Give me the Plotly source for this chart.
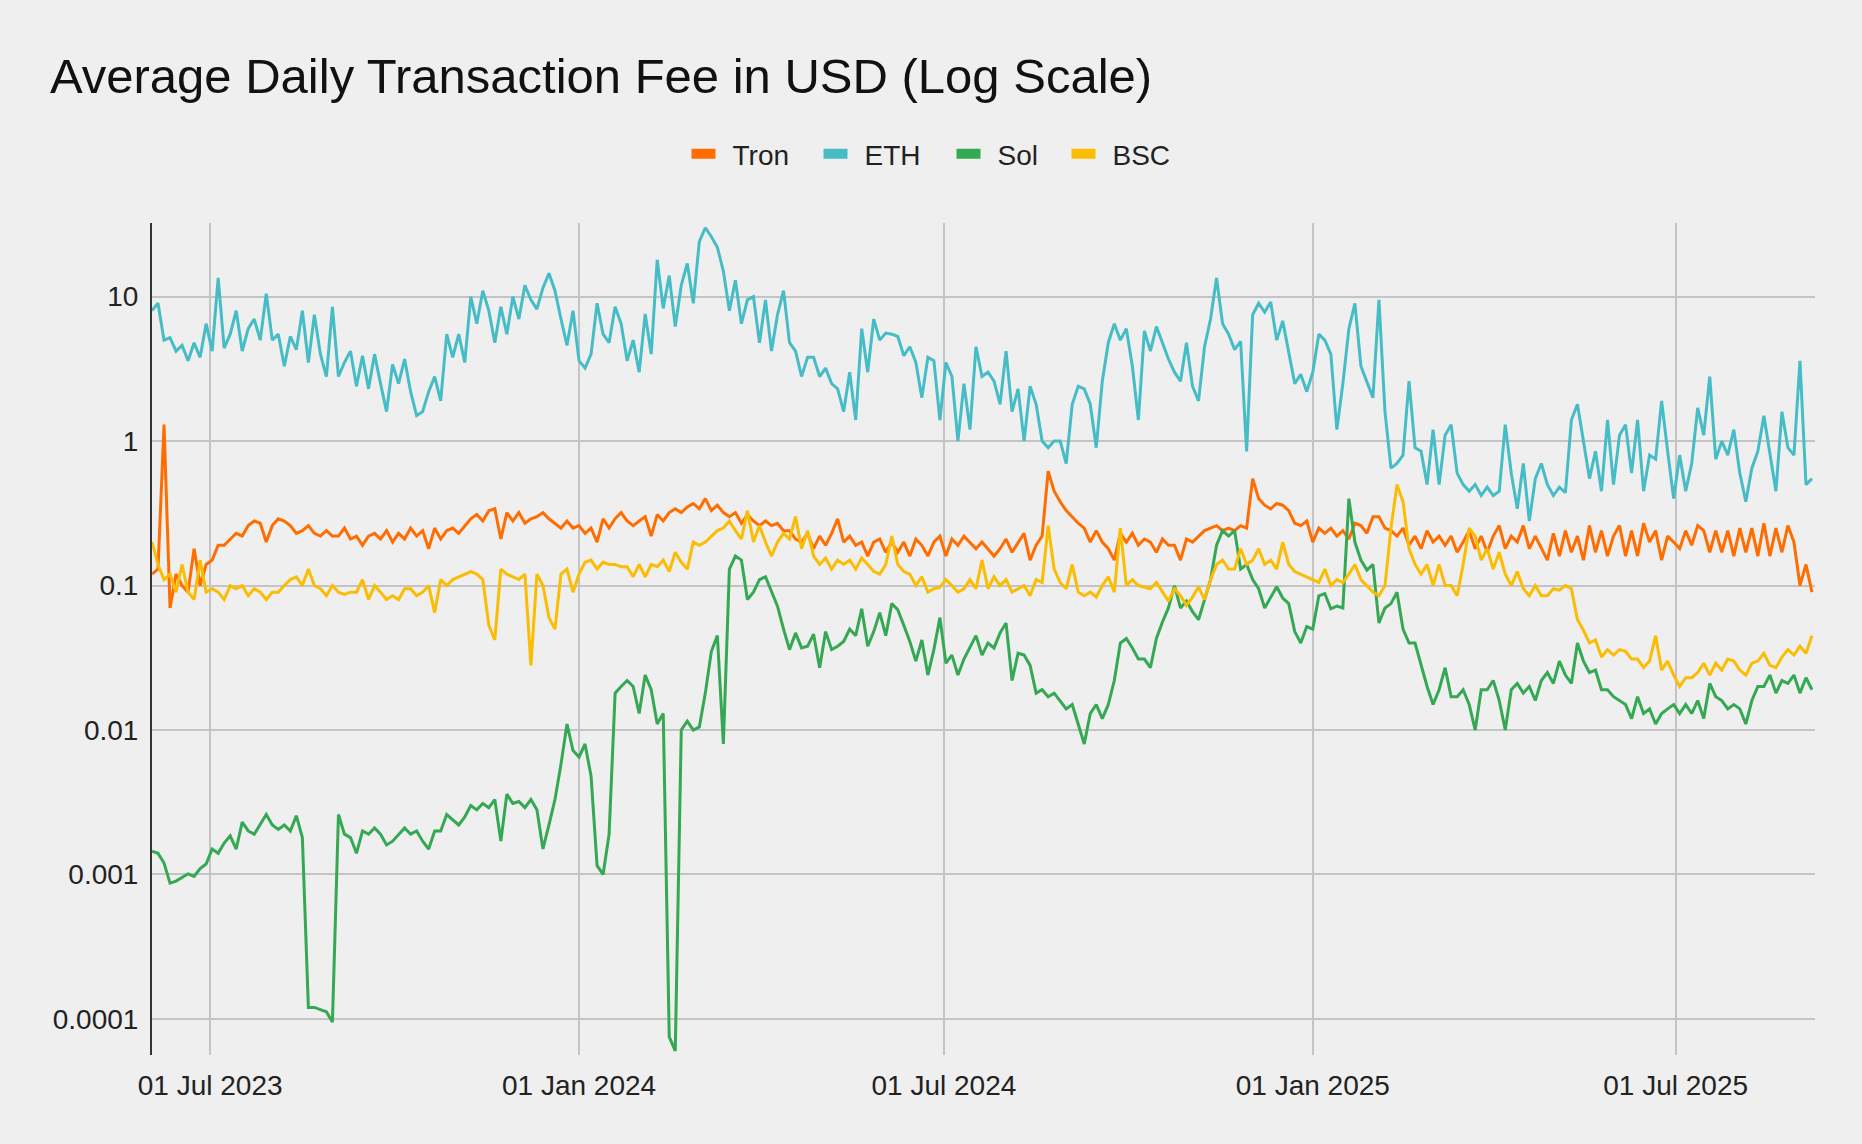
import pandas as pd
import plotly.graph_objects as go

# ---- data (one value every 3 days, starting 2023-06-02) ----
start_date = "2023-06-02"
step = "3D"

series_names = ["Tron", "ETH", "Sol", "BSC"]
series_colors = ["#FF6D01", "#46BDC6", "#34A853", "#FBBC04"]

tron = [
    0.12, 0.13, 1.3, 0.07, 0.12, 0.10, 0.09, 0.18, 0.10, 0.14,
    0.15, 0.19, 0.19, 0.21, 0.23, 0.22, 0.26, 0.28, 0.27, 0.20,
    0.26, 0.29, 0.28, 0.26, 0.23, 0.24, 0.26, 0.23, 0.22, 0.24,
    0.22, 0.22, 0.25, 0.21, 0.22, 0.19, 0.22, 0.23, 0.21, 0.24,
    0.20, 0.23, 0.21, 0.25, 0.22, 0.24, 0.18, 0.25, 0.21, 0.24,
    0.25, 0.23, 0.26, 0.29, 0.31, 0.28, 0.33, 0.34, 0.21, 0.32,
    0.28, 0.32, 0.27, 0.29, 0.30, 0.32, 0.29, 0.27, 0.25, 0.28,
    0.25, 0.26, 0.23, 0.25, 0.20, 0.29, 0.25, 0.29, 0.32, 0.28,
    0.26, 0.28, 0.30, 0.22, 0.31, 0.28, 0.32, 0.34, 0.32, 0.35,
    0.37, 0.34, 0.40, 0.33, 0.36, 0.32, 0.30, 0.32, 0.27, 0.31,
    0.28, 0.26, 0.28, 0.26, 0.27, 0.24, 0.24, 0.21, 0.20, 0.23,
    0.18, 0.22, 0.19, 0.23, 0.29, 0.20, 0.22, 0.19, 0.20, 0.16,
    0.20, 0.21, 0.17, 0.20, 0.17, 0.20, 0.16, 0.21, 0.19, 0.16,
    0.20, 0.22, 0.16, 0.21, 0.19, 0.22, 0.20, 0.18, 0.20, 0.18,
    0.16, 0.18, 0.21, 0.17, 0.20, 0.23, 0.15, 0.19, 0.22, 0.62,
    0.45, 0.38, 0.33, 0.30, 0.27, 0.25, 0.20, 0.24, 0.20, 0.18,
    0.15, 0.23, 0.20, 0.23, 0.19, 0.21, 0.20, 0.17, 0.21, 0.19,
    0.19, 0.15, 0.21, 0.20, 0.22, 0.24, 0.25, 0.26, 0.24, 0.25,
    0.24, 0.26, 0.25, 0.55, 0.40, 0.36, 0.34, 0.37, 0.36, 0.33,
    0.27, 0.26, 0.28, 0.20, 0.25, 0.23, 0.25, 0.22, 0.24, 0.21,
    0.27, 0.26, 0.23, 0.30, 0.30, 0.25, 0.24, 0.22, 0.25, 0.19,
    0.22, 0.18, 0.24, 0.20, 0.22, 0.19, 0.22, 0.17, 0.20, 0.24,
    0.18, 0.22, 0.17, 0.22, 0.26, 0.18, 0.22, 0.20, 0.26, 0.18,
    0.22, 0.18, 0.15, 0.23, 0.16, 0.24, 0.17, 0.22, 0.15, 0.26,
    0.17, 0.24, 0.16, 0.22, 0.26, 0.16, 0.24, 0.16, 0.27, 0.20,
    0.24, 0.15, 0.22, 0.20, 0.18, 0.24, 0.19, 0.26, 0.24, 0.17,
    0.24, 0.17, 0.24, 0.16, 0.25, 0.17, 0.25, 0.16, 0.27, 0.16,
    0.25, 0.17, 0.26, 0.20, 0.10, 0.14, 0.09,
]

eth = [
    8.0, 9.0, 5.0, 5.2, 4.2, 4.6, 3.6, 4.8, 3.8, 6.5,
    4.2, 13.5, 4.4, 5.5, 8.0, 4.2, 6.0, 7.0, 5.0, 10.5,
    5.0, 5.5, 3.3, 5.3, 4.3, 8.0, 3.5, 7.5, 4.0, 2.8,
    8.5, 2.8, 3.5, 4.2, 2.4, 3.9, 2.3, 4.0, 2.5, 1.6,
    3.4, 2.5, 3.7, 2.2, 1.5, 1.6, 2.2, 2.8, 1.9, 5.5,
    3.8, 5.5, 3.5, 10, 6.5, 11, 8.0, 4.8, 8.5, 5.5,
    10, 7, 12, 9.5, 8.2, 11.5, 14.5, 11, 7.0, 4.6,
    8.0, 3.6, 3.2, 4.0, 9.0, 5.5, 4.8, 8.5, 6.5, 3.6,
    5.0, 3.0, 7.6, 4.0, 18, 8.3, 14, 6.2, 12, 17,
    9, 24, 30, 26, 22, 15, 8, 13, 6.5, 9.5,
    10, 4.8, 9.5, 4.2, 7.5, 11, 4.8, 4.2, 2.8, 3.8,
    3.8, 2.8, 3.2, 2.5, 2.3, 1.6, 3.0, 1.4, 6.0, 3.0,
    7.0, 5.0, 5.6, 5.5, 5.3, 3.9, 4.5, 3.5, 2.0, 3.8,
    3.6, 1.4, 3.5, 2.8, 1.0, 2.5, 1.2, 4.5, 2.8, 3.0,
    2.6, 1.8, 4.2, 1.6, 2.3, 1.0, 2.4, 1.8, 1.0, 0.9,
    1.0, 1.0, 0.7, 1.8, 2.4, 2.3, 1.8, 0.9, 2.6, 4.8,
    6.5, 5.0, 6.0, 3.3, 1.4, 5.8, 4.2, 6.2, 4.8, 3.7,
    3.0, 2.6, 4.8, 2.4, 1.9, 4.5, 7.0, 13.5, 6.5, 5.5,
    4.3, 4.9, 0.85, 7.5, 9.0, 7.8, 9.2, 5.0, 6.8, 4.0,
    2.5, 2.9, 2.2, 3.0, 5.5, 5.0, 4.0, 1.2, 2.5, 6.0,
    9.0, 3.3, 2.6, 2.0, 9.5, 1.6, 0.65, 0.7, 0.8, 2.6,
    0.9, 0.85, 0.5, 1.2, 0.5, 1.1, 1.3, 0.6, 0.5, 0.45,
    0.5, 0.42, 0.48, 0.42, 0.45, 1.3, 0.6, 0.34, 0.7, 0.28,
    0.55, 0.7, 0.5, 0.42, 0.48, 0.44, 1.4, 1.8, 1.0, 0.55,
    0.85, 0.45, 1.4, 0.5, 1.1, 1.3, 0.6, 1.4, 0.45, 0.8,
    0.75, 1.9, 0.85, 0.4, 0.8, 0.45, 0.7, 1.7, 1.1, 2.8,
    0.75, 1.0, 0.8, 1.2, 0.6, 0.38, 0.65, 0.85, 1.5, 0.8,
    0.45, 1.6, 0.9, 0.8, 3.6, 0.5, 0.55,
]

sol = [
    0.00145, 0.00140, 0.00120, 0.00087, 0.00090, 0.00095, 0.00101, 0.00097, 0.00110, 0.00118,
    0.00150, 0.00140, 0.00165, 0.00185, 0.00150, 0.00230, 0.00200, 0.00190, 0.00220, 0.00260,
    0.00220, 0.00205, 0.00220, 0.00200, 0.00255, 0.00180, 0.000120, 0.000120, 0.000116, 0.000112,
    0.000095, 0.0026, 0.0019, 0.0018, 0.0014, 0.0020, 0.0019, 0.0021, 0.0019, 0.0016,
    0.0017, 0.0019, 0.0021, 0.0019, 0.0020, 0.0017, 0.0015, 0.0020, 0.0020, 0.0026,
    0.0024, 0.0022, 0.0025, 0.0030, 0.0028, 0.0031, 0.0029, 0.0033, 0.0017, 0.0036,
    0.0031, 0.0032, 0.0029, 0.0033, 0.0028, 0.0015, 0.0022, 0.0033, 0.0058, 0.0110,
    0.0072, 0.0065, 0.0080, 0.0048, 0.00115, 0.0010, 0.0019, 0.018, 0.020, 0.022,
    0.020, 0.013, 0.024, 0.019, 0.011, 0.013, 0.000075, 0.00006, 0.010, 0.0115,
    0.010, 0.0105, 0.018, 0.035, 0.045, 0.008, 0.13, 0.16, 0.15, 0.08,
    0.09, 0.11, 0.115, 0.09, 0.072, 0.05, 0.036, 0.047, 0.037, 0.038,
    0.046, 0.027, 0.048, 0.036, 0.038, 0.041, 0.050, 0.045, 0.069, 0.038,
    0.048, 0.065, 0.045, 0.075, 0.068, 0.053, 0.041, 0.030, 0.042, 0.024,
    0.036, 0.060, 0.029, 0.033, 0.024, 0.031, 0.037, 0.045, 0.033, 0.040,
    0.037, 0.047, 0.055, 0.022, 0.034, 0.033, 0.028, 0.018, 0.019, 0.017,
    0.018, 0.016, 0.014, 0.015, 0.011, 0.008, 0.013, 0.015, 0.012, 0.015,
    0.022, 0.040, 0.043, 0.037, 0.031, 0.031, 0.027, 0.043, 0.056, 0.070,
    0.10, 0.07, 0.078, 0.066, 0.058, 0.08, 0.11, 0.19, 0.24, 0.22,
    0.24, 0.13, 0.14, 0.11, 0.095, 0.07, 0.082, 0.098, 0.082, 0.075,
    0.048, 0.040, 0.052, 0.05, 0.085, 0.088, 0.069, 0.072, 0.07, 0.40,
    0.20, 0.15, 0.128, 0.14, 0.055, 0.07, 0.075, 0.09, 0.05, 0.040,
    0.040, 0.028, 0.020, 0.015, 0.019, 0.027, 0.017, 0.017, 0.019, 0.015,
    0.010, 0.019, 0.019, 0.022, 0.016, 0.010, 0.019, 0.021, 0.018, 0.020,
    0.016, 0.022, 0.025, 0.021, 0.030, 0.024, 0.021, 0.040, 0.030, 0.025,
    0.026, 0.019, 0.019, 0.017, 0.016, 0.015, 0.012, 0.017, 0.013, 0.014,
    0.011, 0.013, 0.014, 0.015, 0.013, 0.015, 0.013, 0.016, 0.012, 0.021,
    0.017, 0.016, 0.014, 0.015, 0.014, 0.011, 0.016, 0.020, 0.020, 0.024,
    0.018, 0.022, 0.021, 0.024, 0.018, 0.023, 0.019,
]

bsc = [
    0.20, 0.14, 0.11, 0.12, 0.09, 0.14, 0.09, 0.08, 0.15, 0.09,
    0.095, 0.09, 0.08, 0.10, 0.095, 0.10, 0.085, 0.095, 0.09, 0.08,
    0.09, 0.09, 0.10, 0.11, 0.115, 0.10, 0.13, 0.10, 0.095, 0.085,
    0.10, 0.09, 0.087, 0.09, 0.09, 0.11, 0.08, 0.10, 0.09, 0.08,
    0.085, 0.08, 0.095, 0.095, 0.085, 0.09, 0.10, 0.065, 0.11, 0.10,
    0.11, 0.115, 0.12, 0.125, 0.12, 0.11, 0.053, 0.042, 0.13, 0.12,
    0.115, 0.11, 0.12, 0.028, 0.12, 0.10, 0.06, 0.05, 0.12, 0.13,
    0.09, 0.12, 0.145, 0.15, 0.13, 0.145, 0.14, 0.14, 0.135, 0.135,
    0.115, 0.14, 0.115, 0.14, 0.135, 0.15, 0.125, 0.17, 0.145, 0.13,
    0.20, 0.19, 0.20, 0.22, 0.24, 0.25, 0.28, 0.24, 0.21, 0.33,
    0.20, 0.26, 0.20, 0.16, 0.20, 0.23, 0.21, 0.30, 0.18, 0.24,
    0.16, 0.14, 0.155, 0.13, 0.15, 0.14, 0.15, 0.13, 0.155, 0.14,
    0.125, 0.12, 0.14, 0.22, 0.14, 0.125, 0.12, 0.10, 0.115, 0.09,
    0.095, 0.097, 0.11, 0.10, 0.09, 0.095, 0.11, 0.095, 0.15, 0.095,
    0.115, 0.10, 0.11, 0.09, 0.095, 0.10, 0.085, 0.11, 0.105, 0.26,
    0.13, 0.105, 0.095, 0.14, 0.09, 0.085, 0.09, 0.083, 0.10, 0.115,
    0.09, 0.25, 0.10, 0.11, 0.10, 0.097, 0.095, 0.105, 0.09, 0.078,
    0.095, 0.085, 0.073, 0.083, 0.098, 0.08, 0.11, 0.14, 0.15, 0.13,
    0.13, 0.18, 0.14, 0.15, 0.18, 0.14, 0.15, 0.13, 0.20, 0.14,
    0.125, 0.12, 0.115, 0.11, 0.105, 0.13, 0.10, 0.11, 0.105, 0.12,
    0.14, 0.11, 0.10, 0.09, 0.085, 0.10, 0.25, 0.50, 0.38, 0.18,
    0.14, 0.12, 0.14, 0.10, 0.14, 0.10, 0.10, 0.085, 0.14, 0.25,
    0.22, 0.15, 0.18, 0.13, 0.17, 0.12, 0.10, 0.125, 0.095, 0.085,
    0.10, 0.085, 0.085, 0.095, 0.093, 0.10, 0.095, 0.058, 0.049, 0.040,
    0.042, 0.032, 0.036, 0.033, 0.036, 0.035, 0.031, 0.031, 0.027, 0.030,
    0.045, 0.026, 0.030, 0.024, 0.020, 0.023, 0.023, 0.025, 0.029, 0.024,
    0.029, 0.026, 0.031, 0.030, 0.026, 0.024, 0.029, 0.030, 0.034, 0.028,
    0.027, 0.032, 0.036, 0.033, 0.038, 0.034, 0.045,
]

x_tick_dates = ["2023-07-01", "2024-01-01", "2024-07-01", "2025-01-01", "2025-07-01"]
x_tick_labels = ["01 Jul 2023", "01 Jan 2024", "01 Jul 2024", "01 Jan 2025", "01 Jul 2025"]
y_tick_values = [0.0001, 0.001, 0.01, 0.1, 1, 10]
y_tick_labels = ["0.0001", "0.001", "0.01", "0.1", "1", "10"]

TITLE = "Average Daily Transaction Fee in USD (Log Scale)"
BG = "#efefef"
GRID = "#c4c4c4"
FONT = "Liberation Sans, Arial, Helvetica, sans-serif"

W, H = 1862, 1144
legend_entry_widths = [81, 82, 64, 58]

fig = go.Figure()
for name, color, vals in zip(series_names, series_colors, [tron, eth, sol, bsc]):
    dates = pd.date_range(start_date, periods=len(vals), freq=step)
    fig.add_trace(go.Scatter(
        x=dates, y=vals, mode="lines", name=name,
        line=dict(color=color, width=3), showlegend=False,
        hovertemplate="%{x|%d %b %Y}: %{y}<extra>" + name + "</extra>",
    ))
# legend entries (short thick swatches)
for name, color, lw in zip(series_names, series_colors, legend_entry_widths):
    fig.add_trace(go.Scatter(
        x=[None], y=[None], mode="lines", name=name,
        line=dict(color=color, width=10, dash="24px,200px"),
        showlegend=True, hoverinfo="skip", legendwidth=lw,
    ))

fig.update_layout(
    width=W, height=H,
    paper_bgcolor=BG, plot_bgcolor=BG,
    margin=dict(l=152, r=47, t=223, b=89, pad=0),
    font=dict(family=FONT, size=28, color="#222222"),
    title=dict(
        text=TITLE, x=50 / W, xanchor="left", xref="container",
        y=1 - 76 / H, yanchor="middle", yref="container",
        font=dict(size=49, color="#111111", family=FONT),
    ),
    legend=dict(
        orientation="h", x=0.5, xanchor="center", xref="container",
        y=1 - 154 / H, yanchor="middle", yref="container",
        font=dict(size=28, color="#222222"), bgcolor="rgba(0,0,0,0)",
        itemwidth=36, traceorder="normal",
    ),
)
fig.update_xaxes(
    type="date", range=["2023-06-02", "2025-09-08 12:00"],
    tickvals=x_tick_dates, ticktext=x_tick_labels,
    showgrid=True, gridcolor=GRID, gridwidth=1.5,
    showline=False, zeroline=False, ticks="",
    ticklabelstandoff=11,
    tickfont=dict(size=28, color="#222222"),
)
fig.update_yaxes(
    type="log", range=[-4.25, 1.51],
    tickvals=y_tick_values, ticktext=y_tick_labels,
    showgrid=True, gridcolor=GRID, gridwidth=1.5,
    showline=True, linecolor="#333333", linewidth=2,
    zeroline=False, ticks="",
    ticklabelstandoff=6,
    tickfont=dict(size=28, color="#222222"),
)

fig.write_html(
    "out.html",
    config={"displayModeBar": False},
    post_script="document.body.style.margin='0';document.body.style.background='" + BG + "';",
)
